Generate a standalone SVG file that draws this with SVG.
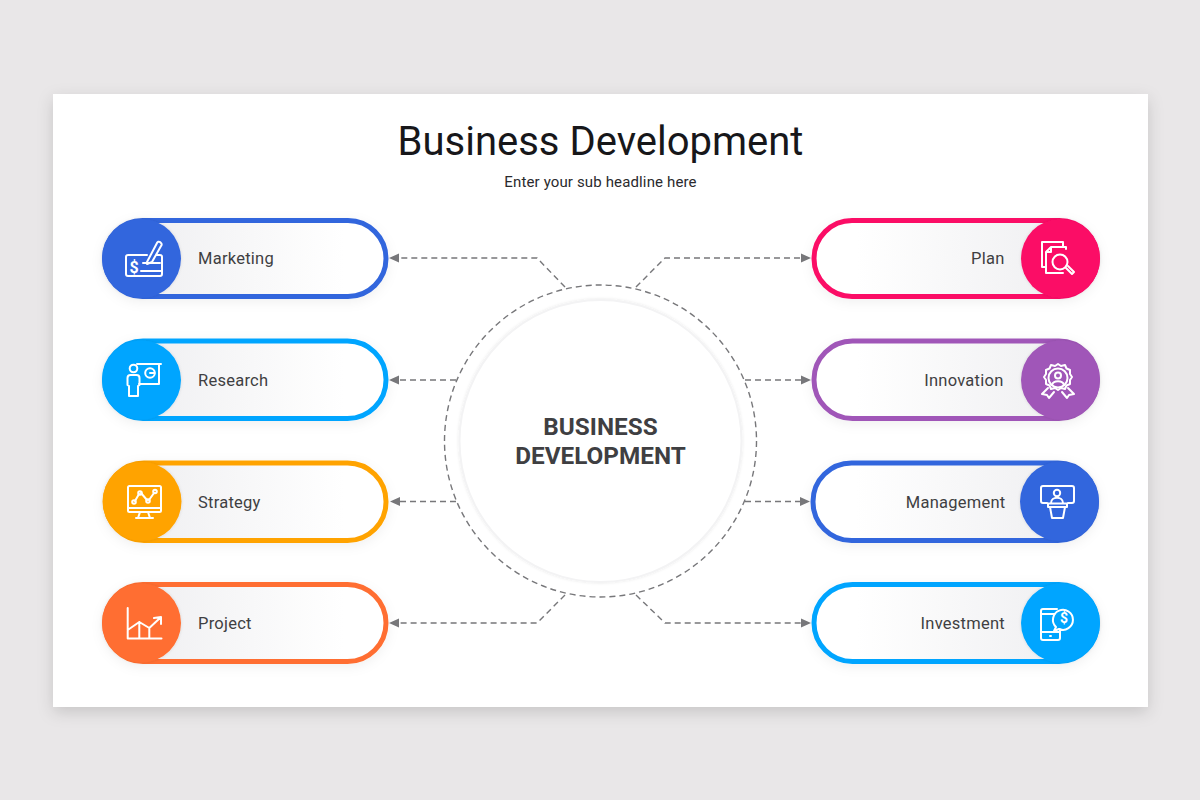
<svg xmlns="http://www.w3.org/2000/svg" width="1200" height="800" viewBox="0 0 1200 800">
<style>
text{font-family:Roboto,"Liberation Sans",sans-serif}
.lbl{font-size:16.5px;fill:#3f3f42;letter-spacing:.25px}
.ic{fill:none;stroke:#fff;stroke-width:2;stroke-linejoin:round;stroke-linecap:round}
.ict{fill:#fff;font-weight:700;text-anchor:middle}
.con{fill:none;stroke:#77777a;stroke-width:1.4;stroke-dasharray:6 4}
.arr{fill:#77777a}
</style>
<defs>
<linearGradient id="gl" x1="0" x2="1" y1="0" y2="0"><stop offset="0.15" stop-color="#f0f0f2"/><stop offset="0.85" stop-color="#fff"/></linearGradient>
<linearGradient id="gr" x1="1" x2="0" y1="0" y2="0"><stop offset="0.15" stop-color="#f0f0f2"/><stop offset="0.85" stop-color="#fff"/></linearGradient>
<filter id="card" x="-5%" y="-5%" width="110%" height="110%"><feDropShadow dx="0" dy="5" stdDeviation="8" flood-color="#000" flood-opacity=".15"/></filter>
<filter id="soft" x="-15%" y="-30%" width="130%" height="170%"><feDropShadow dx="0" dy="3" stdDeviation="6" flood-color="#000" flood-opacity=".06"/></filter>
<filter id="cs" x="-20%" y="-20%" width="140%" height="140%"><feDropShadow dx="0" dy="0" stdDeviation="1.500" flood-color="#000" flood-opacity=".12"/></filter>
<filter id="ring" x="-5%" y="-5%" width="110%" height="110%"><feDropShadow dx="0" dy="0" stdDeviation="1.500" flood-color="#000" flood-opacity=".1"/></filter>
</defs>
<rect width="1200" height="800" fill="#e9e7e8"/>
<rect x="53" y="94" width="1095" height="613" fill="#fff" filter="url(#card)"/>
<text x="600.500" y="155" font-size="40" text-anchor="middle" fill="#17171a" id="title">Business Development</text>
<text x="600.500" y="187" font-size="15" letter-spacing=".14" text-anchor="middle" fill="#2a2a2d" id="subtitle">Enter your sub headline here</text>

<g id="connectors">
<path class="con" d="M565 287L537 258H396"/>
<path class="con" d="M456 380H396"/>
<path class="con" d="M456 501.500H396"/>
<path class="con" d="M565 595L537 623H396"/>
<path class="con" d="M636 287L665 258H804"/>
<path class="con" d="M745 380H804"/>
<path class="con" d="M745 501.500H804"/>
<path class="con" d="M636 595L665 623H804"/>
<path class="arr" d="M389 258l10-4.500v9zM389 380l10-4.500v9zM390 501.500l10-4.500v9zM389 623l10-4.500v9zM811 258l-10-4.500v9zM811 380l-10-4.500v9zM810 501.500l-10-4.500v9zM811 623l-10-4.500v9z"/>
</g>

<g id="center">
<circle cx="600.500" cy="441" r="156" fill="none" stroke="#77777a" stroke-width="1.400" stroke-dasharray="6 4"/>
<circle cx="600.500" cy="441" r="141" fill="#fff" stroke="#f3f3f4" stroke-width="2" filter="url(#ring)"/>
<text x="600.500" y="435" font-size="24.300" font-weight="700" text-anchor="middle" fill="#3f3f42">BUSINESS</text>
<text x="600.500" y="464" font-size="24.300" font-weight="700" text-anchor="middle" fill="#3f3f42">DEVELOPMENT</text>
</g>

<g id="marketing">
<rect x="104.500" y="220.500" width="281.500" height="76" rx="38" fill="url(#gl)" stroke="#3366dd" stroke-width="5" filter="url(#soft)"/>
<circle cx="141.500" cy="258.500" r="39.500" fill="#3366dd" filter="url(#cs)"/>
<text class="lbl" x="198" y="264">Marketing</text>
<path class="ic" d="M147 255H128a2 2 0 0 0-2 2v17a2 2 0 0 0 2 2h32a2 2 0 0 0 2-2v-17a2 2 0 0 0-2-2h-3M147 262l10-19a2 2 0 0 1 3-1l1 1a2 2 0 0 1 0 3l-9 16-5 2zM143 263h17M141 271h20"/>
<text class="ict" x="134" y="272.500" font-size="16">$</text>
</g>

<g id="research">
<rect x="104.500" y="341" width="281.500" height="77.500" rx="38.500" fill="url(#gl)" stroke="#00a5ff" stroke-width="5" filter="url(#soft)"/>
<circle cx="141.500" cy="380" r="39.500" fill="#00a5ff" filter="url(#cs)"/>
<text class="lbl" x="198" y="386">Research</text>
<path class="ic" d="M137 364h24M159 364v20h-20"/>
<circle class="ic" cx="133.500" cy="368.500" r="3.800"/>
<path class="ic" d="M127.500 378a3 3 0 0 1 3-3h6a3 3 0 0 1 3 3v7l-1.500 1v10h-9v-10l-1.500-1z"/>
<circle class="ic" cx="150" cy="373" r="4.800"/>
<path class="ic" d="M150 373h4.500"/>
</g>

<g id="strategy">
<rect x="105.500" y="463" width="280.500" height="77.500" rx="38.500" fill="url(#gl)" stroke="#ffa305" stroke-width="5" filter="url(#soft)"/>
<circle cx="142" cy="501.500" r="39.500" fill="#ffa305" filter="url(#cs)"/>
<text class="lbl" x="198" y="507.500">Strategy</text>
<rect class="ic" x="128" y="486" width="33" height="26" rx="1.500"/>
<path class="ic" d="M128 508h33M140 512l-2 6M148 512l2 6M136 518h17M135 501l4-7M141 493l6 7M149 500l5-7"/>
<circle class="ic" cx="134" cy="502" r="1.800"/>
<circle class="ic" cx="140" cy="493" r="1.800"/>
<circle class="ic" cx="148" cy="501" r="1.800"/>
<circle class="ic" cx="155" cy="491.500" r="1.800"/>
</g>

<g id="project">
<rect x="104.500" y="584.500" width="281.500" height="77" rx="38.500" fill="url(#gl)" stroke="#ff6e30" stroke-width="5" filter="url(#soft)"/>
<circle cx="141.500" cy="623" r="39.500" fill="#ff6e30" filter="url(#cs)"/>
<text class="lbl" x="198" y="629">Project</text>
<path class="ic" d="M127.700 608V638.500H161.500M127.700 630L139.300 622L149.300 628L160 618M139.300 622V638.500M149.300 628V638.500M154 618L161 617L161 624"/>
</g>

<g id="plan">
<rect x="814" y="220.500" width="283.500" height="76" rx="38" fill="url(#gr)" stroke="#fb0a66" stroke-width="5" filter="url(#soft)"/>
<circle cx="1060.500" cy="258.500" r="39.500" fill="#fb0a66" filter="url(#cs)"/>
<text class="lbl" x="1004.500" y="264" text-anchor="end">Plan</text>
<path class="ic" d="M1063 247v-5h-21v25h4M1066 249v-2h-15l-5 5v21h17M1051 247v5h-5"/>
<circle class="ic" cx="1060" cy="262" r="7.500"/>
<path class="ic" d="M1066 268l6 6 2-2-6-6"/>
</g>

<g id="innovation">
<rect x="814" y="341" width="283.500" height="77.500" rx="38.500" fill="url(#gr)" stroke="#a057b8" stroke-width="5" filter="url(#soft)"/>
<circle cx="1060.500" cy="380" r="39.500" fill="#a057b8" filter="url(#cs)"/>
<text class="lbl" x="1003.500" y="386" text-anchor="end">Innovation</text>
<path class="ic" d="M1058 364l3 2 4-1 1.500 3.500 3.500 1.500 0 4 2 3-2 3 0 4-3.500 1.500-1.500 3.500-4-1-3 2-3-2-4 1-1.500-3.500-3.500-1.500 0-4-2-3 2-3 0-4 3.500-1.500 1.500-3.500 4 1z"/>
<circle class="ic" cx="1058" cy="378" r="9.500"/>
<circle class="ic" cx="1058" cy="375.500" r="3"/>
<path class="ic" d="M1052 385c1-5 11-5 12 0M1048 388l-6 6 5 1 2 3 5-6M1068 388l6 6-5 1-2 3-5-6"/>
</g>

<g id="management">
<rect x="813" y="463" width="283.500" height="77.500" rx="38.500" fill="url(#gr)" stroke="#3366dd" stroke-width="5" filter="url(#soft)"/>
<circle cx="1059.500" cy="501.500" r="39.500" fill="#3366dd" filter="url(#cs)"/>
<text class="lbl" x="1005.500" y="507.500" text-anchor="end">Management</text>
<path class="ic" d="M1047 503h-4a2 2 0 0 1-2-2v-13a2 2 0 0 1 2-2h29a2 2 0 0 1 2 2v13a2 2 0 0 1-2 2h-4M1051 503c0-7 12-7 12 0M1048 503.500h19v3.500h-19zM1050 507l2 11h11l2-11"/>
<circle class="ic" cx="1057" cy="493" r="3.200"/>
</g>

<g id="investment">
<rect x="814" y="584.500" width="283.500" height="77" rx="38.500" fill="url(#gr)" stroke="#00a5ff" stroke-width="5" filter="url(#soft)"/>
<circle cx="1060.500" cy="623" r="39.500" fill="#00a5ff" filter="url(#cs)"/>
<text class="lbl" x="1005" y="629" text-anchor="end">Investment</text>
<path class="ic" d="M1057 609h-14a2 2 0 0 0-2 2v27a2 2 0 0 0 2 2h15a2 2 0 0 0 2-2v-9M1041 632h19M1041 614h14M1050 636h1M1056 627l-2 4 5-2a10 10 0 1 0-3-2z"/>
<text class="ict" x="1064" y="622.500" font-size="14">$</text>
</g>
</svg>
